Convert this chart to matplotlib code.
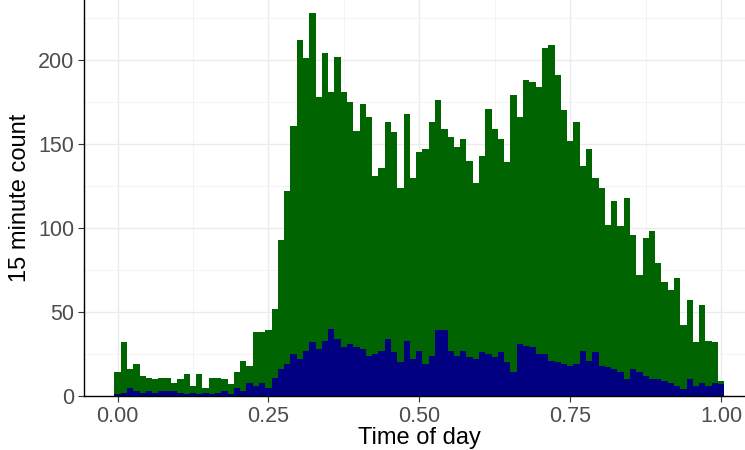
import numpy as np
import matplotlib
matplotlib.use("Agg")
import matplotlib.pyplot as plt
from matplotlib.ticker import MultipleLocator

# 15-minute bins, centred at k/96 (k = 0..96)
bin_centers = np.arange(97) / 96.0

total_counts = [14, 32, 16, 19, 12, 11, 10, 11, 11, 8,
                10, 13, 6, 13, 5, 11, 11, 10, 7, 14,
                21, 18, 38, 38, 39, 52, 93, 122, 161, 212,
                201, 228, 178, 204, 181, 202, 181, 175, 158, 174,
                166, 131, 136, 163, 157, 124, 168, 130, 145, 147,
                163, 176, 159, 154, 148, 153, 140, 127, 143, 171,
                159, 153, 139, 179, 166, 188, 187, 184, 207, 209,
                191, 170, 152, 163, 137, 147, 130, 124, 102, 116,
                101, 118, 96, 72, 94, 98, 79, 68, 63, 70,
                42, 57, 32, 54, 33, 32, 9]

subset_counts = [1, 2, 5, 3, 2, 3, 2, 3, 3, 3,
                 2, 1, 2, 1, 2, 1, 2, 3, 1, 5,
                 3, 8, 6, 8, 5, 11, 16, 19, 25, 22,
                 27, 32, 28, 33, 40, 34, 29, 31, 29, 28,
                 24, 25, 27, 34, 26, 20, 33, 22, 27, 19,
                 24, 39, 39, 27, 24, 27, 23, 22, 26, 25,
                 23, 26, 20, 14, 31, 30, 29, 25, 25, 21,
                 20, 19, 18, 19, 27, 21, 26, 18, 17, 16,
                 14, 10, 16, 14, 12, 10, 10, 9, 8, 6,
                 4, 10, 6, 8, 6, 8, 7]

x_ticks = [0.0, 0.25, 0.5, 0.75, 1.0]
x_tick_labels = ["0.00", "0.25", "0.50", "0.75", "1.00"]
y_ticks = [0, 50, 100, 150, 200]

plt.rcParams['font.family'] = ['Liberation Sans', 'DejaVu Sans']

W, H = 745, 450
fig = plt.figure(figsize=(W / 100, H / 100), dpi=100)
ax_h = 396.0
ax = fig.add_axes([84 / W, (H - ax_h) / H, 670.7 / W, ax_h / H])

bw = 1 / 96.0
ax.bar(bin_centers, total_counts, width=bw, color="#006400", linewidth=0, zorder=2)
ax.bar(bin_centers, subset_counts, width=bw, color="#000080", linewidth=0, zorder=3)

ax.set_xlim(-0.0557, 1.0557)
ax.set_ylim(0, 235.7)

ax.set_xticks(x_ticks)
ax.set_xticklabels(x_tick_labels)
ax.set_yticks(y_ticks)
ax.xaxis.set_minor_locator(MultipleLocator(0.125))
ax.yaxis.set_minor_locator(MultipleLocator(25))

ax.grid(which="major", color="#ebebeb", linewidth=1.0, zorder=0)
ax.grid(which="minor", color="#f2f2f2", linewidth=0.6, zorder=0)
ax.set_axisbelow(True)

for s in ["top", "right"]:
    ax.spines[s].set_visible(False)
for s in ["left", "bottom"]:
    ax.spines[s].set_color("black")
    ax.spines[s].set_linewidth(1.0)
    ax.spines[s].set_zorder(5)

ax.tick_params(axis="both", which="major", length=4, width=0.8, color="#333333",
               labelcolor="#4d4d4d", labelsize=15.5, pad=3)
ax.tick_params(axis="both", which="minor", length=0)

ax.set_xlabel("Time of day", fontsize=17, color="black")
ax.set_ylabel("15 minute count", fontsize=17, color="black")
ax.xaxis.set_label_coords(0.5, (ax_h - 427) / ax_h)
ax.yaxis.set_label_coords((31 - 84) / 670.7, 0.5)

fig.savefig("out.png", dpi=100)
